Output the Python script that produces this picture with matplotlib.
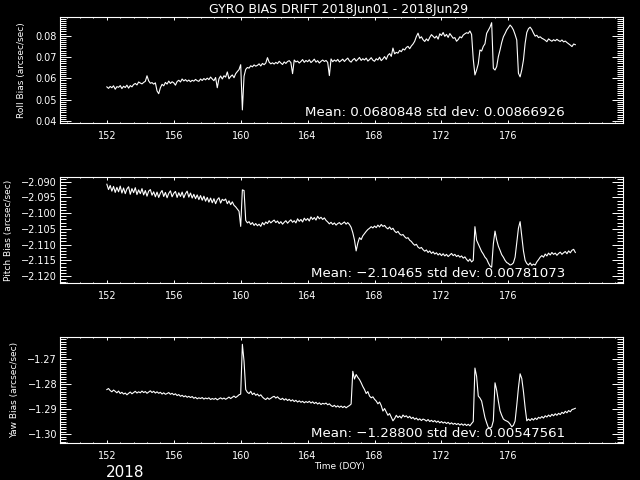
import numpy as np
import matplotlib
matplotlib.use("Agg")
import matplotlib.pyplot as plt
from matplotlib.ticker import AutoMinorLocator, FuncFormatter

# ---------------- data ----------------
doy_start, doy_step = 152.0, 0.1

roll = [
    0.0560, 0.0553, 0.0562, 0.0556, 0.0565, 0.0549, 0.0561, 0.0558, 0.0566, 0.0552,
    0.0563, 0.0557, 0.0568, 0.0554, 0.0566, 0.0560, 0.0571, 0.0576, 0.0569, 0.0583,
    0.0578, 0.0574, 0.0581, 0.0586, 0.0612, 0.0588, 0.0577, 0.0580, 0.0573, 0.0579,
    0.0541, 0.0528, 0.0556, 0.0572, 0.0565, 0.0581, 0.0573, 0.0587, 0.0576, 0.0584,
    0.0579, 0.0568, 0.0585, 0.0591, 0.0583, 0.0597, 0.0588, 0.0594, 0.0586, 0.0592,
    0.0584, 0.0591, 0.0587, 0.0595, 0.0589, 0.0586, 0.0597, 0.0590, 0.0599, 0.0593,
    0.0601, 0.0594, 0.0606, 0.0597, 0.0589, 0.0604, 0.0556, 0.0598, 0.0611, 0.0597,
    0.0612, 0.0606, 0.0630, 0.0598, 0.0609, 0.0616, 0.0603, 0.0622, 0.0632, 0.0641,
    0.0664, 0.0452, 0.0610, 0.0642, 0.0651, 0.0648, 0.0659, 0.0654, 0.0663, 0.0657,
    0.0661, 0.0668, 0.0658, 0.0670, 0.0664, 0.0672, 0.0697, 0.0676, 0.0668, 0.0673,
    0.0667, 0.0675, 0.0669, 0.0680, 0.0672, 0.0665, 0.0677, 0.0670, 0.0679, 0.0683,
    0.0674, 0.0622, 0.0686, 0.0677, 0.0681, 0.0672, 0.0679, 0.0688, 0.0675, 0.0684,
    0.0678, 0.0687, 0.0674, 0.0681, 0.0690, 0.0676, 0.0683, 0.0672, 0.0680, 0.0686,
    0.0679, 0.0684, 0.0675, 0.0613, 0.0691, 0.0678, 0.0686, 0.0680, 0.0689, 0.0677,
    0.0683, 0.0690, 0.0679, 0.0688, 0.0695, 0.0682, 0.0676, 0.0687, 0.0693, 0.0681,
    0.0689, 0.0698, 0.0684, 0.0692, 0.0686, 0.0695, 0.0681, 0.0688, 0.0697, 0.0685,
    0.0680, 0.0692, 0.0686, 0.0699, 0.0683, 0.0691, 0.0702, 0.0689, 0.0708, 0.0716,
    0.0703, 0.0742, 0.0715, 0.0722, 0.0718, 0.0731, 0.0725, 0.0738, 0.0733, 0.0745,
    0.0750, 0.0739, 0.0752, 0.0761, 0.0774, 0.0796, 0.0812, 0.0788, 0.0795, 0.0781,
    0.0773, 0.0785, 0.0776, 0.0792, 0.0805, 0.0797, 0.0789, 0.0798, 0.0784, 0.0809,
    0.0801, 0.0815, 0.0797, 0.0806, 0.0792, 0.0810, 0.0799, 0.0788, 0.0791, 0.0774,
    0.0782, 0.0795, 0.0790, 0.0803, 0.0809, 0.0814, 0.0811, 0.0822, 0.0806, 0.0690,
    0.0616, 0.0639, 0.0668, 0.0733, 0.0728, 0.0750, 0.0762, 0.0811, 0.0825, 0.0840,
    0.0861, 0.0647, 0.0639, 0.0655, 0.0702, 0.0733, 0.0768, 0.0795, 0.0810, 0.0827,
    0.0838, 0.0850, 0.0841, 0.0827, 0.0805, 0.0780, 0.0624, 0.0607, 0.0640, 0.0686,
    0.0764, 0.0815, 0.0833, 0.0840, 0.0829, 0.0812, 0.0798, 0.0802, 0.0791, 0.0795,
    0.0788, 0.0784, 0.0779, 0.0772, 0.0785, 0.0779, 0.0774, 0.0781, 0.0776, 0.0783,
    0.0777, 0.0773, 0.0780, 0.0771, 0.0775, 0.0768, 0.0762, 0.0756, 0.0749, 0.0761,
    0.0758,
]

pitch = [
    -2.0908, -2.0925, -2.0912, -2.0930, -2.0915, -2.0934, -2.0918, -2.0932, -2.0914, -2.0936,
    -2.0920, -2.0938, -2.0923, -2.0916, -2.0940, -2.0922, -2.0935, -2.0919, -2.0941, -2.0926,
    -2.0938, -2.0922, -2.0942, -2.0928, -2.0946, -2.0930, -2.0925, -2.0943, -2.0932, -2.0948,
    -2.0933, -2.0950, -2.0936, -2.0928, -2.0947, -2.0934, -2.0951, -2.0937, -2.0929, -2.0948,
    -2.0937, -2.0931, -2.0950, -2.0935, -2.0947, -2.0933, -2.0951, -2.0938, -2.0930, -2.0949,
    -2.0936, -2.0952, -2.0940, -2.0954, -2.0942, -2.0957, -2.0944, -2.0959, -2.0946, -2.0962,
    -2.0950, -2.0965, -2.0952, -2.0967, -2.0954, -2.0970, -2.0957, -2.0951, -2.0968, -2.0956,
    -2.0960, -2.0955, -2.0970, -2.0961, -2.0973, -2.0964, -2.0975, -2.0980, -2.0987, -2.0994,
    -2.1042, -2.0926, -2.0928, -2.1023, -2.1031, -2.1027, -2.1036, -2.1030, -2.1039, -2.1033,
    -2.1040, -2.1035, -2.1042, -2.1030, -2.1037, -2.1028, -2.1033, -2.1024, -2.1031, -2.1026,
    -2.1022, -2.1030, -2.1025, -2.1033, -2.1027, -2.1035, -2.1029, -2.1024, -2.1032, -2.1026,
    -2.1021, -2.1029, -2.1024, -2.1031, -2.1018, -2.1026, -2.1020, -2.1028, -2.1016, -2.1023,
    -2.1017, -2.1025, -2.1012, -2.1020, -2.1014, -2.1022, -2.1010, -2.1018, -2.1013, -2.1020,
    -2.1015, -2.1023, -2.1028, -2.1034, -2.1029, -2.1036, -2.1031, -2.1038, -2.1033, -2.1030,
    -2.1036, -2.1032, -2.1028, -2.1035, -2.1030, -2.1036, -2.1045, -2.1062, -2.1085, -2.1120,
    -2.1095, -2.1078, -2.1084, -2.1072, -2.1065, -2.1058, -2.1052, -2.1048, -2.1043, -2.1047,
    -2.1041, -2.1046, -2.1038, -2.1044, -2.1036, -2.1042, -2.1039, -2.1046, -2.1050, -2.1044,
    -2.1052, -2.1048, -2.1057, -2.1062, -2.1058, -2.1066, -2.1070, -2.1068, -2.1075, -2.1080,
    -2.1078, -2.1086, -2.1090, -2.1097, -2.1102, -2.1099, -2.1108, -2.1112, -2.1109, -2.1116,
    -2.1121, -2.1117, -2.1125, -2.1120, -2.1128, -2.1123, -2.1130, -2.1126, -2.1133, -2.1128,
    -2.1135, -2.1129, -2.1136, -2.1131, -2.1138, -2.1133, -2.1128, -2.1135, -2.1131, -2.1138,
    -2.1134, -2.1140, -2.1136, -2.1143, -2.1139, -2.1147, -2.1153, -2.1146, -2.1155, -2.1150,
    -2.1043, -2.1086, -2.1098, -2.1110, -2.1122, -2.1130, -2.1140, -2.1146, -2.1158, -2.1168,
    -2.1172, -2.1098, -2.1057, -2.1085, -2.1105, -2.1118, -2.1132, -2.1140, -2.1150, -2.1157,
    -2.1160, -2.1165, -2.1163, -2.1158, -2.1140, -2.1095, -2.1048, -2.1027, -2.1075, -2.1120,
    -2.1150, -2.1160, -2.1165, -2.1158, -2.1166, -2.1162, -2.1165, -2.1155, -2.1148, -2.1140,
    -2.1135, -2.1140, -2.1130, -2.1136, -2.1127, -2.1133, -2.1125, -2.1131, -2.1127, -2.1134,
    -2.1128, -2.1124, -2.1131, -2.1126, -2.1122, -2.1129, -2.1120, -2.1126, -2.1118, -2.1115,
    -2.1125,
]

yaw = [
    -1.2822, -1.2818, -1.2826, -1.2831, -1.2824, -1.2829, -1.2835, -1.2828, -1.2838, -1.2833,
    -1.2840, -1.2836, -1.2843, -1.2837, -1.2832, -1.2839, -1.2834, -1.2829, -1.2836, -1.2831,
    -1.2835, -1.2828, -1.2834, -1.2830, -1.2837, -1.2832, -1.2827, -1.2834, -1.2829, -1.2836,
    -1.2831, -1.2837, -1.2833, -1.2840, -1.2835, -1.2841, -1.2838, -1.2834, -1.2841, -1.2837,
    -1.2843, -1.2839, -1.2846, -1.2842, -1.2849, -1.2845, -1.2851, -1.2847, -1.2853, -1.2849,
    -1.2854, -1.2850, -1.2857, -1.2853, -1.2859, -1.2855, -1.2858, -1.2854, -1.2860, -1.2856,
    -1.2859, -1.2855, -1.2862, -1.2858, -1.2861, -1.2857, -1.2863, -1.2859, -1.2855, -1.2860,
    -1.2856, -1.2861, -1.2857, -1.2852, -1.2858, -1.2853, -1.2848, -1.2854, -1.2849, -1.2843,
    -1.2840, -1.2641, -1.2709, -1.2822, -1.2833, -1.2838, -1.2829, -1.2842, -1.2836, -1.2845,
    -1.2840, -1.2848, -1.2843, -1.2852, -1.2858, -1.2862, -1.2855, -1.2861, -1.2857, -1.2852,
    -1.2849, -1.2856, -1.2851, -1.2858, -1.2862, -1.2857, -1.2864, -1.2859, -1.2866, -1.2861,
    -1.2868, -1.2863, -1.2870, -1.2865, -1.2872, -1.2867, -1.2873, -1.2869, -1.2875, -1.2870,
    -1.2874, -1.2869, -1.2876, -1.2871, -1.2878, -1.2873, -1.2880, -1.2875, -1.2882, -1.2877,
    -1.2880, -1.2876, -1.2883, -1.2879, -1.2886, -1.2890, -1.2885, -1.2892, -1.2887, -1.2893,
    -1.2888, -1.2894, -1.2889, -1.2895, -1.2890, -1.2886, -1.2880, -1.2749, -1.2780, -1.2762,
    -1.2773, -1.2782, -1.2795, -1.2810, -1.2822, -1.2838, -1.2830, -1.2848, -1.2855, -1.2851,
    -1.2861, -1.2868, -1.2879, -1.2872, -1.2886, -1.2908, -1.2898, -1.2912, -1.2925, -1.2918,
    -1.2932, -1.2947, -1.2938, -1.2925, -1.2934, -1.2928, -1.2936, -1.2924, -1.2931, -1.2927,
    -1.2935, -1.2929, -1.2938, -1.2933, -1.2941, -1.2936, -1.2944, -1.2939, -1.2946, -1.2940,
    -1.2943, -1.2948, -1.2942, -1.2950, -1.2945, -1.2951, -1.2946, -1.2953, -1.2948, -1.2955,
    -1.2950, -1.2956, -1.2952, -1.2958, -1.2953, -1.2960, -1.2955, -1.2961, -1.2957, -1.2962,
    -1.2958, -1.2964, -1.2959, -1.2965, -1.2960, -1.2966, -1.2961, -1.2967, -1.2958, -1.2950,
    -1.2736, -1.2769, -1.2848, -1.2856, -1.2868, -1.2900, -1.2934, -1.2955, -1.2974, -1.2976,
    -1.2972, -1.2947, -1.2795, -1.2825, -1.2868, -1.2907, -1.2925, -1.2940, -1.2945, -1.2948,
    -1.2952, -1.2960, -1.2971, -1.2965, -1.2948, -1.2885, -1.2815, -1.2759, -1.2778, -1.2830,
    -1.2894, -1.2947, -1.2940, -1.2946, -1.2938, -1.2944, -1.2936, -1.2942, -1.2933, -1.2937,
    -1.2930, -1.2936, -1.2927, -1.2932, -1.2924, -1.2930, -1.2921, -1.2927, -1.2919, -1.2925,
    -1.2917, -1.2922, -1.2913, -1.2918, -1.2909, -1.2915, -1.2906, -1.2911, -1.2902, -1.2900,
    -1.2897,
]

title = "GYRO BIAS DRIFT 2018Jun01 - 2018Jun29"
ylabels = ["Roll Bias (arcsec/sec)", "Pitch Bias (arcsec/sec)", "Yaw Bias (arcsec/sec)"]
stats_text = ["Mean: 0.0680848 std dev: 0.00866926",
              "Mean: \u22122.10465 std dev: 0.00781073",
              "Mean: \u22121.28800 std dev: 0.00547561"]
x_ticks = [152, 156, 160, 164, 168, 172, 176]
y_ticks = [[0.04, 0.05, 0.06, 0.07, 0.08],
           [-2.120, -2.115, -2.110, -2.105, -2.100, -2.095, -2.090],
           [-1.30, -1.29, -1.28, -1.27]]
y_fmt = ["{:.2f}", "{:.3f}", "{:.2f}"]
y_lims = [(0.03906, 0.08863), (-2.1223, -2.0886), (-1.3037, -1.2613)]
y_minor = [10, 5, 10]
x_lim = (149.2, 182.85)
xlabel = "Time (DOY)"
year_label = "2018"

# ---------------- plot ----------------
W, H = 640, 480
plt.rcParams["font.family"] = ["DejaVu Sans"]
fig = plt.figure(figsize=(6.4, 4.8), dpi=100, facecolor="black")

series = [roll, pitch, yaw]
n = len(roll)
doy = doy_start + doy_step * np.arange(n)

panels = [(17.3, 123.0), (177.3, 283.3), (337.3, 443.3)]
ylabel_x = [22, 9, 15]

def make_fmt(f):
    return FuncFormatter(lambda v, p: f.format(v).replace("-", "\u2212"))

for i, (top, bot) in enumerate(panels):
    ax = fig.add_axes([60 / W, 1 - bot / H, 563 / W, (bot - top) / H])
    ax.set_facecolor("black")
    ax.plot(doy, series[i], color="white", lw=0.8)
    ax.set_xlim(*x_lim)
    ax.set_ylim(*y_lims[i])
    for s in ax.spines.values():
        s.set_color("white")
        s.set_linewidth(0.8)
    ax.set_xticks(x_ticks)
    ax.xaxis.set_minor_locator(AutoMinorLocator(5))
    ax.set_yticks(y_ticks[i])
    ax.yaxis.set_major_formatter(make_fmt(y_fmt[i]))
    ax.yaxis.set_minor_locator(AutoMinorLocator(y_minor[i]))
    ax.tick_params(axis="x", which="major", direction="in", length=2.0, width=0.7,
                   colors="white", top=True, bottom=True, labelsize=7, pad=5.5)
    ax.tick_params(axis="x", which="minor", direction="in", length=1.0, width=0.7,
                   colors="white", top=True, bottom=True)
    ax.tick_params(axis="y", which="major", direction="in", length=8.0, width=0.7,
                   colors="white", left=True, right=True, labelsize=7, pad=2)
    ax.tick_params(axis="y", which="minor", direction="in", length=4.0, width=0.7,
                   colors="white", left=True, right=True)
    fig.text(565 / W, 1 - (bot - 6.5) / H, stats_text[i], color="white",
             fontsize=9.6, ha="right", va="baseline")
    fig.text(ylabel_x[i] / W, 1 - ((top + bot) / 2) / H, ylabels[i], color="white",
             fontsize=6.5, rotation=90, ha="center", va="center")

fig.text(339 / W, 1 - 9 / H, title, color="white", fontsize=9, ha="center", va="center")
fig.text(339 / W, 1 - 466.7 / H, xlabel, color="white", fontsize=6.5, ha="center", va="center")
fig.text(125.5 / W, 1 - 477 / H, year_label, color="white", fontsize=11,
         ha="center", va="baseline")

fig.savefig("out.png", dpi=100, facecolor="black")
